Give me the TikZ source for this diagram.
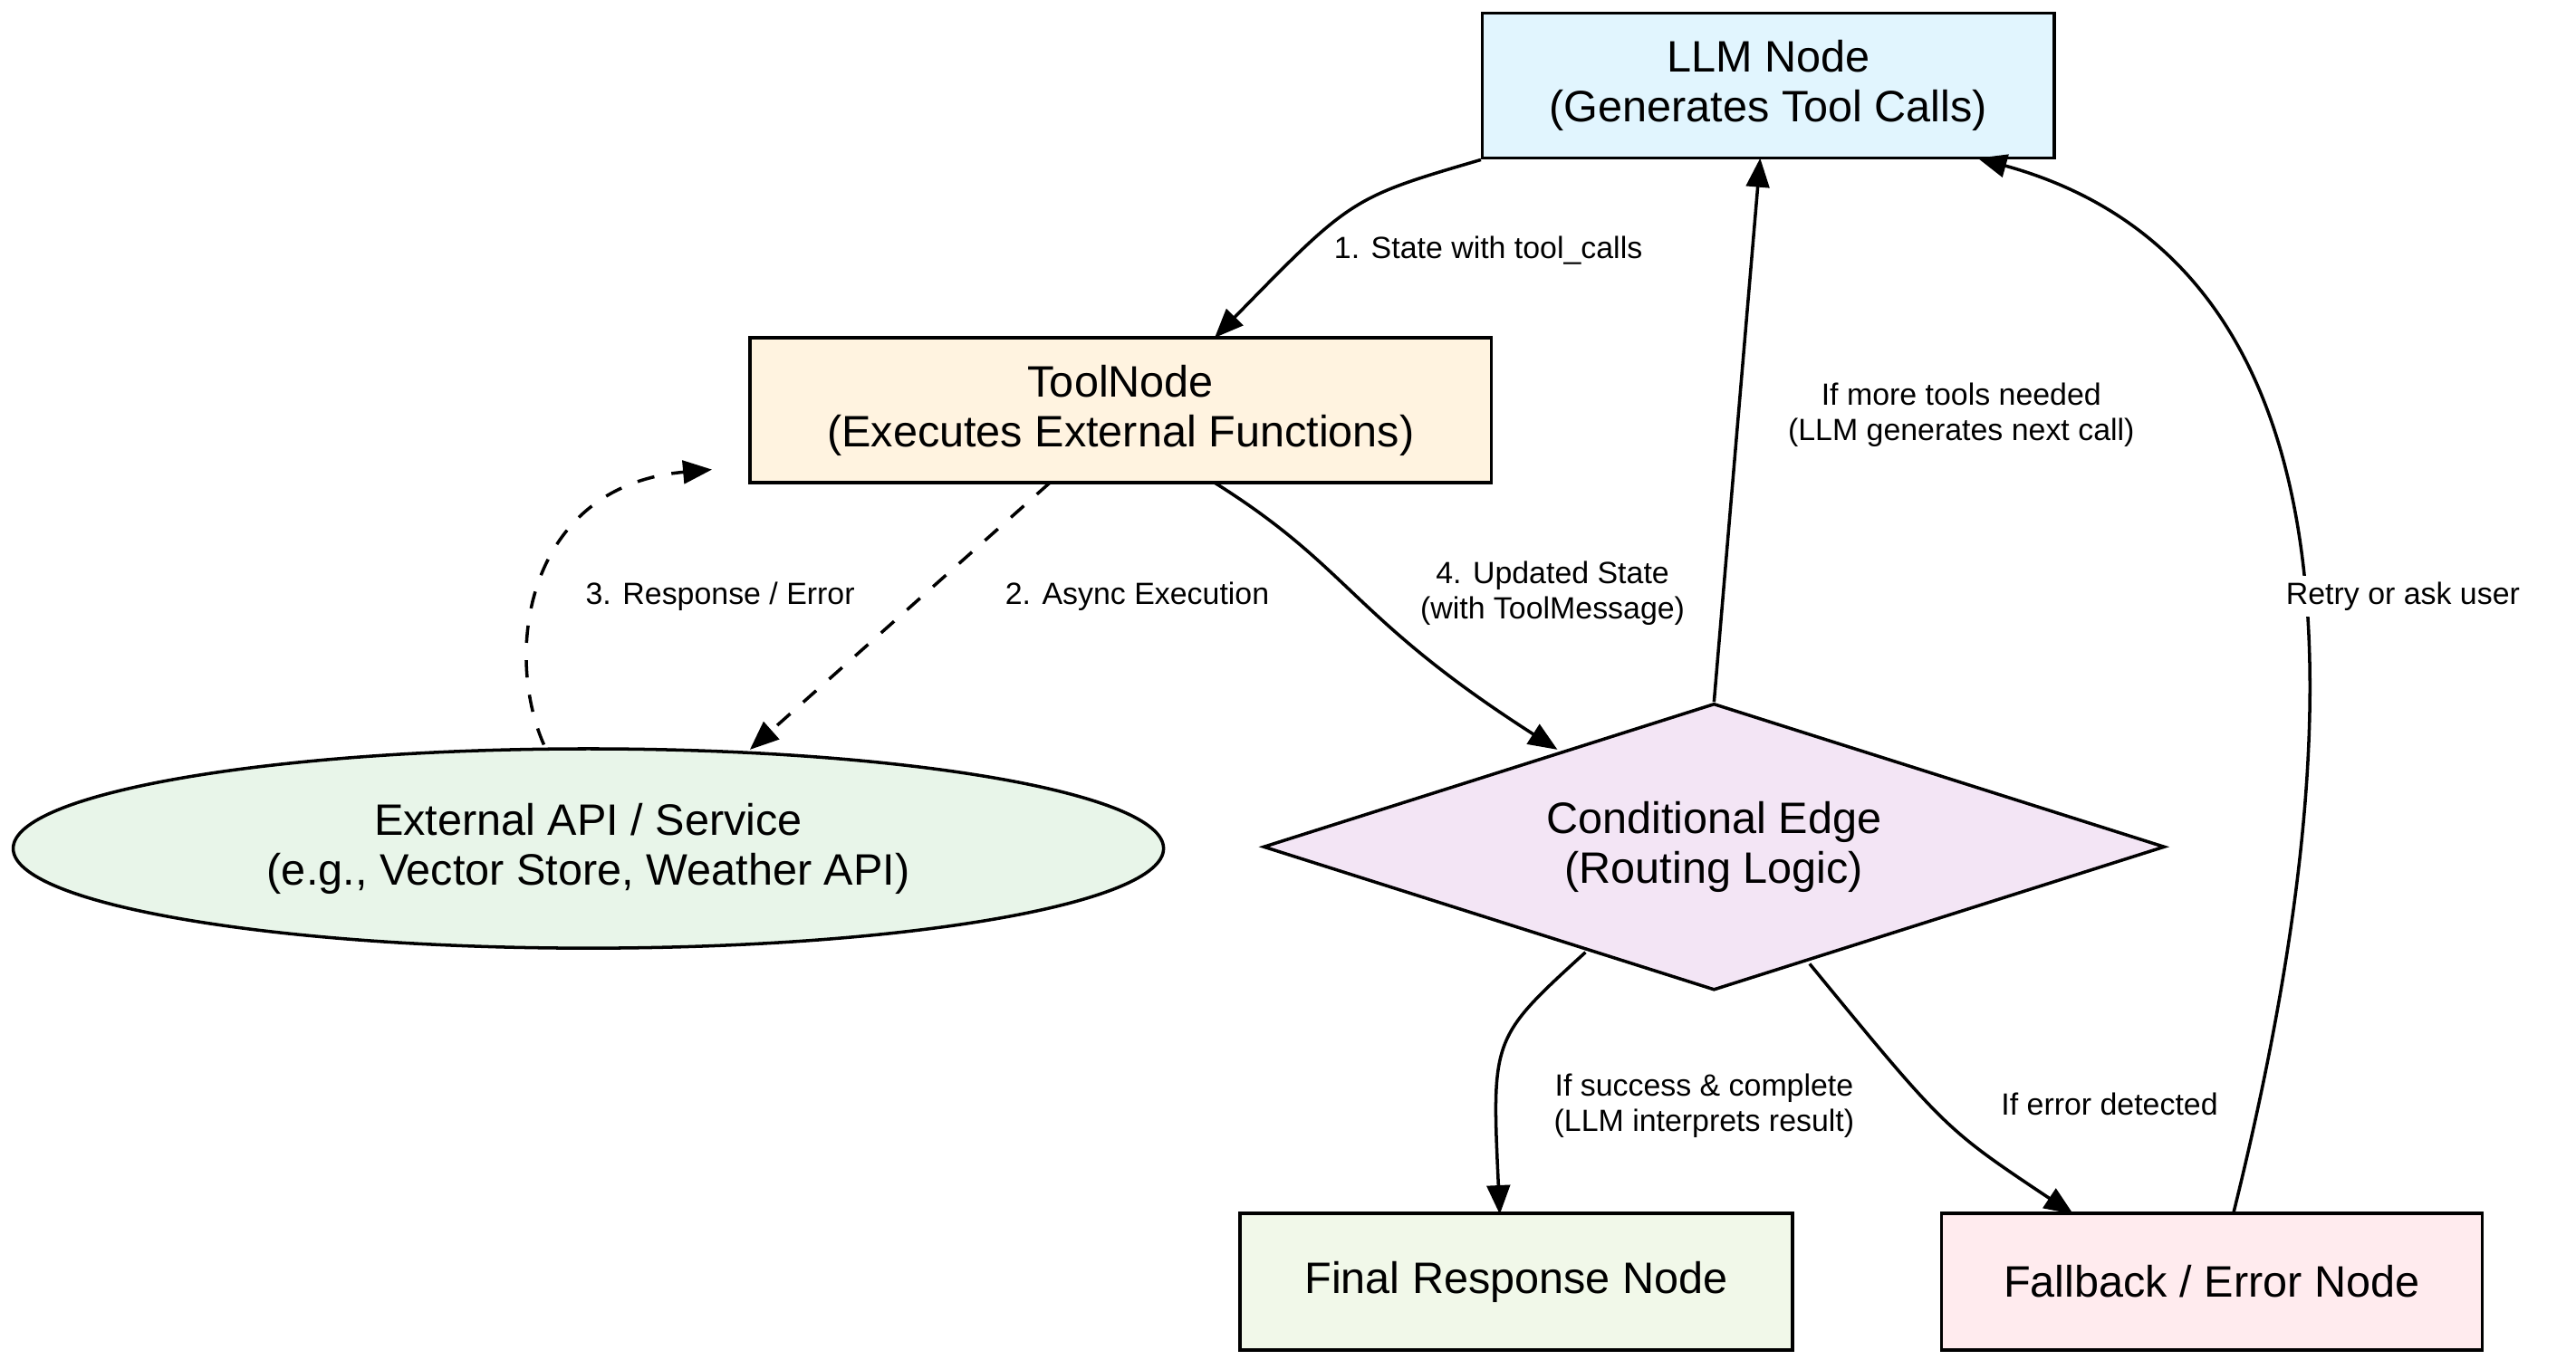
\documentclass[tikz,border=0pt]{standalone}
\usepackage{fontspec}
\setmainfont{Liberation Sans}
\usetikzlibrary{arrows.meta,shapes.geometric}
\definecolor{llmblue}{HTML}{E1F5FE}
\definecolor{toolorange}{HTML}{FFF3E0}
\definecolor{apigreen}{HTML}{E8F5E9}
\definecolor{condpurple}{HTML}{F3E5F5}
\definecolor{finalgreen}{HTML}{F1F8E9}
\definecolor{errpink}{HTML}{FFEBEE}
\begin{document}
\begin{tikzpicture}[
    box/.style={draw, line width=0.55pt, align=center, font=\fontsize{7.6}{8.6}\selectfont, inner sep=0pt},
    lbl/.style={font=\fontsize{5.3}{6.1}\selectfont, align=center, fill=white, inner sep=1pt},
    >={Triangle[length=5pt,width=4pt]}]
    \useasboundingbox (0,0) rectangle (15.63,8.25);
    \begin{scope}[every node/.style={box}]
        \node[fill=llmblue, minimum width=3.47cm, minimum height=0.88cm] (llm) at (10.73,7.73)
            {LLM Node\\(Generates Tool Calls)};
        \node[fill=toolorange, minimum width=4.5cm, minimum height=0.88cm] (tool) at (6.80,5.76)
            {ToolNode\\(Executes External Functions)};
        \node[ellipse, fill=apigreen, minimum width=6.98cm, minimum height=1.21cm] (api) at (3.57,3.10)
            {External API / Service\\(e.g., Vector Store, Weather API)};
        \node[diamond, fill=condpurple, minimum width=5.47cm, minimum height=1.74cm, aspect=3.1] (cond) at (10.40,3.11)
            {Conditional Edge\\(Routing Logic)};
        \node[fill=finalgreen, minimum width=3.35cm, minimum height=0.83cm] (final) at (9.20,0.47)
            {Final Response Node};
        \node[fill=errpink, minimum width=3.28cm, minimum height=0.83cm] (fallback) at (13.42,0.47)
            {Fallback / Error Node};
    \end{scope}

    \begin{scope}[every path/.style={draw, line width=0.55pt}]
        \draw[->] (llm.south west) .. controls (8.2,7.05) .. (7.37,6.20);
        \node[lbl, anchor=west] at (8.05,6.73) {1. State with tool\_calls};

        \draw[->, dashed] (6.37,5.32) -- (4.55,3.70);
        \node[lbl] at (6.90,4.63) {2. Async Execution};

        \draw[->, dashed] (3.30,3.73) .. controls (3.05,4.3) and (3.2,5.3) .. (4.32,5.40);
        \node[lbl] at (4.37,4.63) {3. Response / Error};

        \draw[->] (7.37,5.32) .. controls (8.2,4.8) and (8.2,4.5) .. (9.45,3.70);
        \node[lbl] at (9.42,4.65) {4. Updated State\\(with ToolMessage)};

        \draw[->] (cond.north) -- (10.68,7.29);
        \node[lbl] at (11.90,5.73) {If more tools needed\\(LLM generates next call)};

        \draw[->] (13.55,0.88) .. controls (14.2,3.5) and (14.5,6.6) .. (12.00,7.29);
        \node[lbl] at (14.58,4.63) {Retry or ask user};

        \draw[->] (9.62,2.47) .. controls (9.05,1.95) .. (9.10,0.88);
        \node[lbl] at (10.34,1.54) {If success \& complete\\(LLM interprets result)};

        \draw[->] (10.98,2.40) .. controls (11.8,1.4) .. (12.58,0.88);
        \node[lbl] at (12.80,1.55) {If error detected};
    \end{scope}
\end{tikzpicture}
\end{document}
